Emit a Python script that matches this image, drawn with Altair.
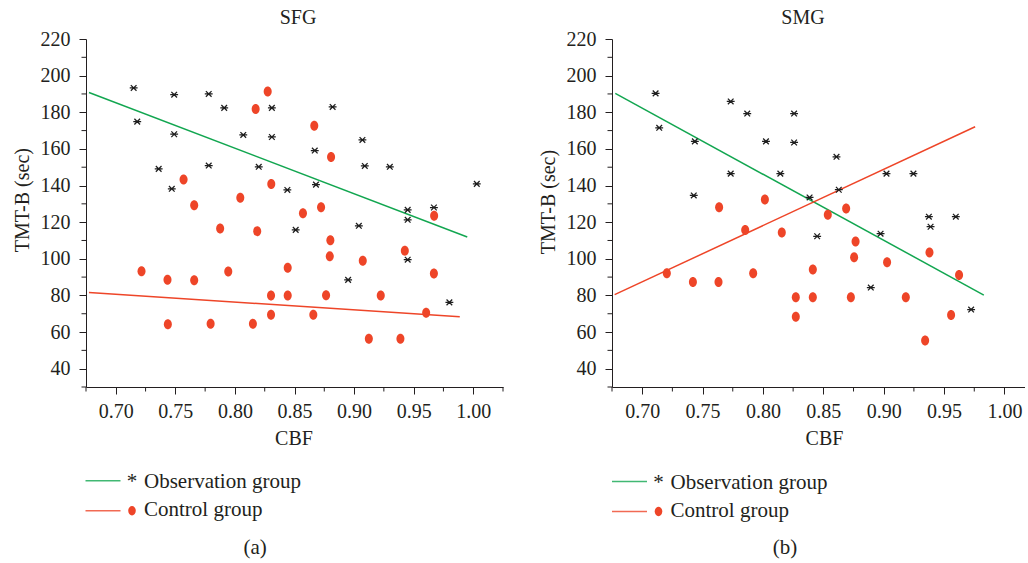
import altair as alt
import pandas as pd

FONT = "Liberation Serif"
INK = "#231f20"
GREEN = "#12a650"
RED = "#ee4528"
STAR = "M-1,0L1,0M-0.72,-0.72L0.72,0.72M-0.72,0.72L0.72,-0.72"
OVAL = "M0,-1A0.8,1,0,1,1,0,1A0.8,1,0,1,1,0,-1Z"

# ---- SFG ----
sfg_obs_cbf = [0.715, 0.718, 0.749, 0.749, 0.736, 0.747, 0.778, 0.778, 0.791, 0.807,
               0.820, 0.831, 0.831, 0.844, 0.851, 0.867, 0.868, 0.882, 0.895, 0.904,
               0.907, 0.909, 0.930, 0.945, 0.945, 0.967, 0.945, 0.980, 1.003]
sfg_obs_tmt = [193.3, 174.9, 189.6, 168.0, 149.1, 138.2, 190.0, 150.9, 182.4, 167.6,
               150.2, 182.4, 166.5, 137.6, 115.8, 159.1, 140.5, 182.9, 88.5, 118.0,
               164.9, 150.7, 150.2, 126.7, 121.3, 128.0, 99.5, 76.2, 140.9]
sfg_ctl_cbf = [0.8275, 0.8174, 0.8666, 0.8807, 0.7569, 0.8305, 0.8045, 0.7658, 0.8723, 0.8571,
               0.9672, 0.7876, 0.8187, 0.8801, 0.8796, 0.9073, 0.9426, 0.9670, 0.7216, 0.7434,
               0.7658, 0.7944, 0.8443, 0.8303, 0.8443, 0.8765, 0.9224, 0.8303, 0.8658, 0.9605,
               0.7437, 0.7796, 0.8151, 0.9124, 0.9389]
sfg_ctl_tmt = [191.3, 181.8, 172.7, 155.6, 143.3, 140.9, 133.3, 129.2, 128.1, 124.9,
               123.5, 116.5, 115.1, 110.1, 101.4, 98.9, 104.4, 92.0, 93.2, 88.5,
               88.3, 93.1, 95.1, 80.0, 80.0, 80.1, 80.0, 69.5, 69.5, 70.5,
               64.2, 64.5, 64.5, 56.4, 56.4]
sfg_obs_fit_cbf = [0.6775, 0.995]
sfg_obs_fit_tmt = [190.8, 111.9]
sfg_ctl_fit_cbf = [0.6775, 0.9887]
sfg_ctl_fit_tmt = [81.6, 68.4]

# ---- SMG ----
smg_obs_cbf = [0.7111, 0.7141, 0.7436, 0.7427, 0.7733, 0.7870, 0.7733, 0.8025, 0.8144, 0.8258,
               0.8258, 0.8386, 0.8609, 0.8628, 0.9023, 0.9246, 0.8449, 0.8974, 0.9374, 0.9597,
               0.9388, 0.8893, 0.9724]
smg_obs_tmt = [190.3, 171.5, 164.1, 134.6, 185.9, 179.3, 146.5, 164.1, 146.5, 179.3,
               163.5, 133.5, 155.7, 137.7, 146.5, 146.5, 112.3, 113.7, 123.0, 123.0,
               117.5, 84.3, 72.3]
smg_ctl_cbf = [0.7637, 0.8016, 0.7853, 0.8156, 0.7204, 0.7420, 0.7632, 0.7919, 0.8413, 0.8272,
               0.8413, 0.8272, 0.8537, 0.8689, 0.8767, 0.8755, 0.9028, 0.9379, 0.9624, 0.8728,
               0.9183, 0.9558, 0.9343]
smg_ctl_tmt = [128.1, 132.4, 115.7, 114.4, 92.1, 87.3, 87.3, 92.1, 94.1, 79.0,
               79.0, 68.4, 124.1, 127.4, 109.4, 100.8, 98.1, 103.5, 91.1, 79.0,
               79.0, 69.3, 55.4]
smg_obs_fit_cbf = [0.6777, 0.9829]
smg_obs_fit_tmt = [190.3, 80.2]
smg_ctl_fit_cbf = [0.6772, 0.9757]
smg_ctl_fit_tmt = [80.4, 172.1]

# ---- axes ----
x_major = [0.70, 0.75, 0.80, 0.85, 0.90, 0.95, 1.00]
x_minor_sfg = [0.675, 0.725, 0.775, 0.825, 0.875, 0.925, 0.975, 1.025]
x_minor_smg = [0.675, 0.725, 0.775, 0.825, 0.875, 0.925, 0.975]
y_major = [40, 60, 80, 100, 120, 140, 160, 180, 200, 220]
y_minor = [30, 50, 70, 90, 110, 130, 150, 170, 190, 210]

H = 348


def one_row():
    return alt.Data(values=[{"k": 0}])


def panel(name, caption, obs_x, obs_y, ctl_x, ctl_y, fo_x, fo_y, fc_x, fc_y,
          x_domain, width, x_minor, lay):
    xs = alt.Scale(domain=x_domain, nice=False, zero=False)
    ys = alt.Scale(domain=[30, 220], nice=False, zero=False)
    x_axis = alt.Axis(values=x_major, format=".2f", tickSize=7, labelPadding=7,
                      labelFlush=False, labelOverlap=False, title="CBF",
                      titleX=lay["cbf_x"], titleY=57.5, titleBaseline="alphabetic",
                      titleAlign="center")
    y_axis = alt.Axis(values=y_major, tickSize=7, labelPadding=9,
                      labelOverlap=False, title="TMT-B (sec)",
                      titleX=-57.7, titleY=lay["tmt_y"], titleBaseline="alphabetic",
                      titleAlign="center", titleAngle=270)

    def X(field):
        return alt.X(f"{field}:Q", scale=xs, axis=x_axis)

    def Y(field):
        return alt.Y(f"{field}:Q", scale=ys, axis=y_axis)

    obs = pd.DataFrame({"cbf": obs_x, "tmt": obs_y})
    ctl = pd.DataFrame({"cbf": ctl_x, "tmt": ctl_y})
    fit_o = pd.DataFrame({"cbf": fo_x, "tmt": fo_y})
    fit_c = pd.DataFrame({"cbf": fc_x, "tmt": fc_y})

    stars = alt.Chart(obs).mark_point(shape=STAR, filled=False, color="#1e1e1e",
                                      strokeWidth=1.25, size=62, opacity=1).encode(
        x=X("cbf"), y=Y("tmt"))
    dots = alt.Chart(ctl).mark_point(shape=OVAL, filled=True, color=RED,
                                     size=100, opacity=1).encode(x=X("cbf"), y=Y("tmt"))
    line_o = alt.Chart(fit_o).mark_line(color=GREEN, strokeWidth=1.5).encode(
        x=X("cbf"), y=Y("tmt"))
    line_c = alt.Chart(fit_c).mark_line(color=RED, strokeWidth=1.5).encode(
        x=X("cbf"), y=Y("tmt"))

    xminor = alt.Chart(pd.DataFrame({"v": x_minor})).mark_rule(
        color=INK, strokeWidth=1).encode(x=X("v"), y=alt.value(H), y2=alt.value(H + 4.5))
    yminor = alt.Chart(pd.DataFrame({"v": y_minor})).mark_rule(
        color=INK, strokeWidth=1).encode(y=Y("v"), x=alt.value(0), x2=alt.value(-4.5))

    def txt(text, x, y, size, align="left"):
        return alt.Chart(one_row()).mark_text(
            text=text, font=FONT, fontSize=size, color=INK, align=align,
            baseline="alphabetic").encode(x=alt.value(x), y=alt.value(y))

    lx = lay["leg_x"]
    ly = lay["leg_y"]
    leg_line_o = alt.Chart(one_row()).mark_rule(color=GREEN, strokeWidth=1.5, opacity=0.8).encode(
        x=alt.value(lx), x2=alt.value(lx + 35), y=alt.value(ly))
    leg_line_c = alt.Chart(one_row()).mark_rule(color=RED, strokeWidth=1.5, opacity=0.8).encode(
        x=alt.value(lx), x2=alt.value(lx + 35), y=alt.value(ly + 30))
    leg_star = txt("*", lx + 46.5, ly + 7.7, 21, "center")
    leg_dot = alt.Chart(one_row()).mark_point(shape=OVAL, filled=True, color=RED,
                                              size=90, opacity=1).encode(
        x=alt.value(lx + 46.5), y=alt.value(ly + 30))
    leg_obs = txt("Observation group", lx + 58.5, ly + 7.7, 21)
    leg_ctl = txt("Control group", lx + 58.5, ly + 35.7, 21)
    title = txt(name, lay["title_x"], -15.4, 20, "center")
    cap = txt(caption, lay["cap_x"], 514.8, 21, "center")

    return alt.layer(
        line_o, line_c, stars, dots, xminor, yminor,
        leg_line_o, leg_line_c, leg_star, leg_dot, leg_obs, leg_ctl, title, cap
    ).properties(width=width, height=H)


left = panel("SFG", "(a)", sfg_obs_cbf, sfg_obs_tmt, sfg_ctl_cbf, sfg_ctl_tmt,
             sfg_obs_fit_cbf, sfg_obs_fit_tmt, sfg_ctl_fit_cbf, sfg_ctl_fit_tmt,
             [0.675, 1.025], 417, x_minor_sfg,
             {"cbf_x": 207.5, "tmt_y": 160.7, "leg_x": -0.5, "leg_y": 441.7,
              "title_x": 212, "cap_x": 169.2})
right = panel("SMG", "(b)", smg_obs_cbf, smg_obs_tmt, smg_ctl_cbf, smg_ctl_tmt,
              smg_obs_fit_cbf, smg_obs_fit_tmt, smg_ctl_fit_cbf, smg_ctl_fit_tmt,
              [0.675, 1.017], 413, x_minor_smg,
              {"cbf_x": 212, "tmt_y": 162.5, "leg_x": 0, "leg_y": 442.5,
               "title_x": 191, "cap_x": 173})

chart = alt.hconcat(left, right, spacing=34).properties(
    padding={"left": 12, "top": 7, "right": 0, "bottom": 2},
    background="white"
).configure_view(stroke=None).configure_axis(
    labelFont=FONT, labelFontSize=20, labelColor=INK,
    titleFont=FONT, titleFontSize=20, titleColor=INK, titleFontWeight="normal",
    domainColor=INK, tickColor=INK, domainWidth=1, tickWidth=1, grid=False
)

chart.save("out.html", embed_options={"renderer": "svg", "actions": False})
